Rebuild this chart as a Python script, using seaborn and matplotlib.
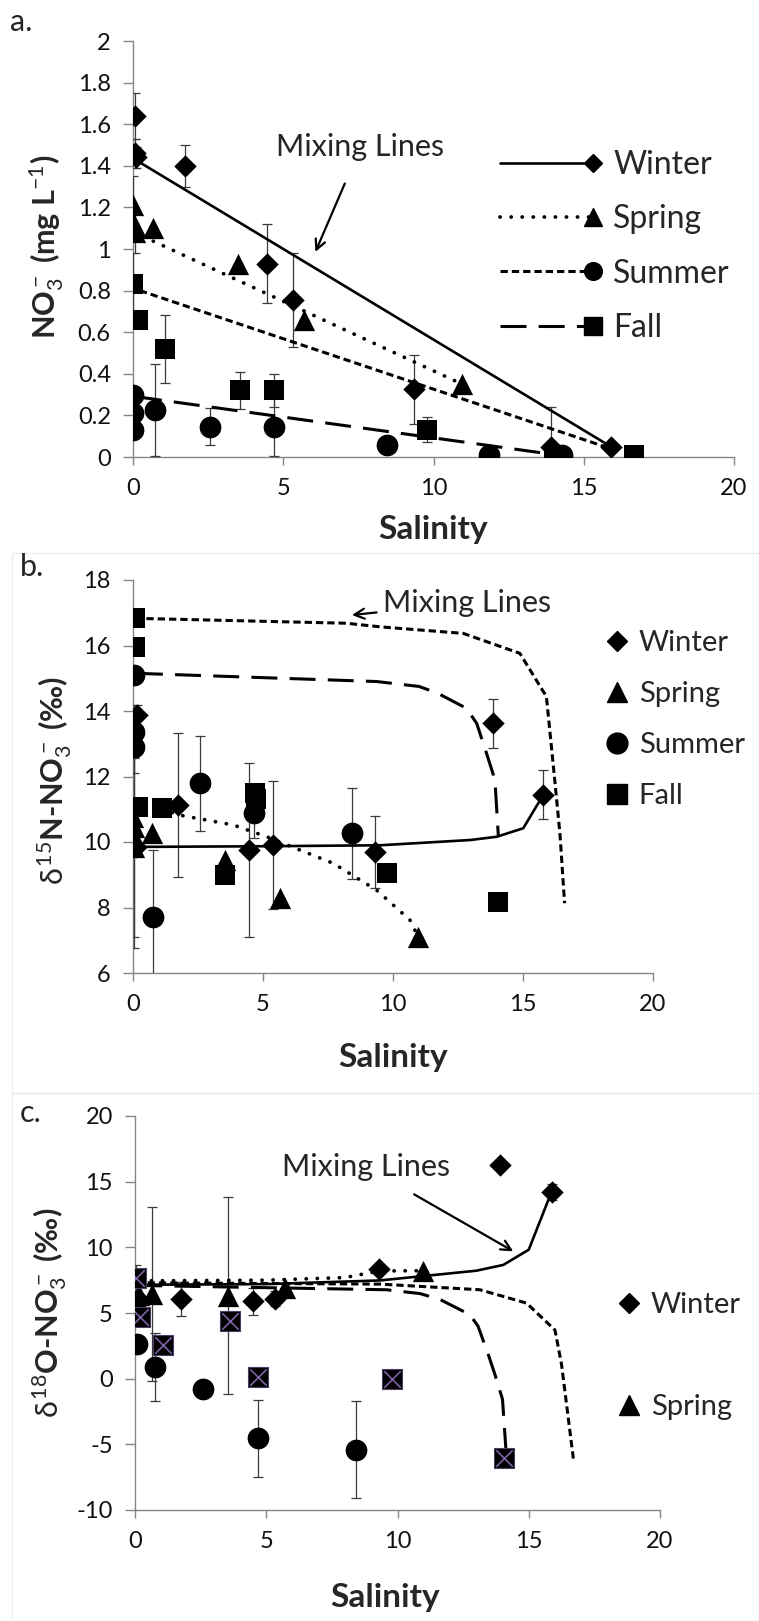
import numpy as np
import matplotlib
matplotlib.use('Agg')
import matplotlib.pyplot as plt
import seaborn as sns
from matplotlib.lines import Line2D
from matplotlib.legend_handler import HandlerLine2D
from matplotlib.ticker import FuncFormatter
from matplotlib.patches import Rectangle

# ---------------- data: panel a (NO3-, mg/L) ----------------
winter_a_x = [0.05, 0.07, 0.10, 1.73, 4.45, 5.34, 9.34, 13.90, 15.90]
winter_a_y = [1.64, 1.46, 1.44, 1.40, 0.93, 0.755, 0.325, 0.05, 0.05]
winter_a_e = [0.11, 0.07, 0.05, 0.10, 0.19, 0.225, 0.165, 0.19, 0.02]
spring_a_x = [0.00, 0.03, 0.05, 0.68, 3.51, 5.68, 10.96]
spring_a_y = [1.21, 1.12, 1.08, 1.10, 0.93, 0.66, 0.35]
spring_a_e = [0.14, 0.0, 0.10, 0.0, 0.0, 0.0, 0.0]
summer_a_x = [0.00, 0.00, 0.00, 0.73, 2.57, 4.68, 8.46, 11.84, 14.29]
summer_a_y = [0.30, 0.21, 0.13, 0.226, 0.146, 0.146, 0.06, 0.01, 0.01]
summer_a_e = [0.0, 0.0, 0.0, 0.22, 0.09, 0.14, 0.0, 0.0, 0.0]
fall_a_x = [0.00, 0.18, 1.07, 3.57, 4.68, 9.79, 14.01, 16.68]
fall_a_y = [0.83, 0.66, 0.52, 0.32, 0.32, 0.13, 0.00, 0.01]
fall_a_e = [0.15, 0.0, 0.165, 0.09, 0.08, 0.06, 0.0, 0.0]
mixW_a_x, mixW_a_y = [0.07, 15.90], [1.43, 0.05]
mixSp_a_x, mixSp_a_y = [0.34, 10.96], [1.06, 0.35]
mixSu_a_x, mixSu_a_y = [0.23, 15.90], [0.80, 0.04]
mixF_a_x, mixF_a_y = [0.10, 14.10], [0.29, 0.01]

# ---------------- data: panel b (d15N) ----------------
winter_b_x = [0.14, 0.10, 1.74, 4.47, 5.40, 9.31, 13.86, 15.78]
winter_b_y = [13.88, 9.85, 11.13, 9.76, 9.90, 9.70, 13.62, 11.44]
winter_b_e = [0.30, 0.0, 2.20, 2.65, 1.95, 1.10, 0.75, 0.75]
spring_b_x = [0.00, 0.02, 0.04, 0.05, 0.72, 3.54, 5.65, 10.97]
spring_b_y = [10.75, 10.45, 10.15, 9.85, 10.26, 9.45, 8.28, 7.10]
spring_b_e = [0.0, 0.0, 3.40, 2.75, 0.0, 0.0, 0.0, 0.0]
summer_b_x = [0.05, 0.05, 0.05, 0.78, 2.58, 4.65, 8.41]
summer_b_y = [15.10, 13.37, 12.91, 7.72, 11.79, 10.88, 10.26]
summer_b_e = [0.0, 0.80, 0.80, 2.03, 1.45, 0.77, 1.40]
fall_b_x = [0.08, 0.08, 0.20, 1.10, 3.54, 4.69, 4.72, 9.76, 14.05]
fall_b_y = [16.83, 15.96, 11.08, 11.03, 9.00, 11.50, 11.30, 9.04, 8.18]
mixW_b_x = [0.10, 5.0, 9.5, 12.96, 13.99, 15.01, 15.78]
mixW_b_y = [9.85, 9.87, 9.90, 10.06, 10.16, 10.42, 11.44]
mixSp_b_x = [1.10, 1.80, 3.86, 5.14, 7.70, 9.37, 10.65, 10.97]
mixSp_b_y = [11.00, 10.82, 10.52, 10.16, 9.35, 8.53, 7.62, 7.10]
mixSu_b_x = [0.08, 8.20, 9.50, 12.70, 14.88, 15.90, 16.17, 16.42, 16.60]
mixSu_b_y = [16.83, 16.68, 16.57, 16.37, 15.76, 14.44, 12.30, 10.26, 8.13]
mixF_b_x = [0.15, 9.37, 11.00, 11.70, 12.83, 13.22, 13.60, 13.92, 14.05]
mixF_b_y = [15.15, 14.90, 14.75, 14.55, 14.08, 13.62, 12.70, 11.90, 10.20]

# ---------------- data: panel c (d18O) ----------------
winter_c_x = [0.10, 1.77, 4.49, 5.35, 9.28, 13.90, 15.87]
winter_c_y = [6.10, 6.04, 5.89, 6.10, 8.38, 16.28, 14.23]
winter_c_e = [0.0, 1.30, 1.05, 0.60, 0.0, 0.0, 0.60]
spring_c_x = [0.15, 0.64, 3.55, 5.71, 10.98]
spring_c_y = [6.40, 6.46, 6.32, 6.90, 8.22]
spring_c_e = [0.0, 6.60, 7.50, 0.0, 0.0]
summer_c_x = [0.05, 0.06, 0.76, 2.60, 4.70, 8.42]
summer_c_y = [5.90, 2.66, 0.90, -0.80, -4.55, -5.40]
summer_c_e = [0.0, 0.0, 2.60, 0.0, 2.90, 3.70]
fall_c_x = [0.05, 0.18, 1.08, 3.60, 4.70, 9.78, 14.07]
fall_c_y = [7.63, 4.71, 2.57, 4.41, 0.11, -0.03, -6.05]
fall_c_e = [1.0, 0.0, 0.0, 0.0, 0.0, 0.0, 0.0]
mixW_c_x = [0.05, 5.0, 9.33, 13.00, 14.03, 15.00, 15.87]
mixW_c_y = [7.15, 7.20, 7.48, 8.22, 8.66, 9.82, 14.23]
mixSp_c_x = [0.20, 5.0, 8.0, 9.30, 10.98]
mixSp_c_y = [7.45, 7.50, 7.70, 8.20, 8.22]
mixSu_c_x = [0.05, 9.33, 13.14, 14.92, 16.00, 16.25, 16.70]
mixSu_c_y = [7.30, 7.20, 6.77, 5.75, 3.70, 1.07, -6.10]
mixF_c_x = [0.05, 9.58, 10.85, 11.61, 12.76, 13.07, 13.49, 13.71, 14.00, 14.15]
mixF_c_y = [7.10, 6.77, 6.48, 6.04, 4.87, 3.99, 1.65, 0.33, -1.57, -5.96]

seasons = ['Winter', 'Spring', 'Summer', 'Fall']
x_ticks = [0, 5, 10, 15, 20]

# ---------------- style ----------------
sns.set_theme(style='white')
plt.rcParams['font.family'] = ['Lato', 'DejaVu Sans']
plt.rcParams['mathtext.fontset'] = 'custom'
plt.rcParams['mathtext.rm'] = 'Lato'
plt.rcParams['mathtext.it'] = 'Lato'
plt.rcParams['mathtext.bf'] = 'Lato:bold'
plt.rcParams['mathtext.sf'] = 'Lato'
plt.rcParams['axes.unicode_minus'] = False

W, H = 759, 1621
fig = plt.figure(figsize=(W / 100, H / 100), dpi=100)
fig.patch.set_facecolor('white')

# faint frames of the composed sub-figures
for (l, t, r, b) in [(12, 553, 759, 1093), (12, 1093, 759, 1621)]:
    fig.patches.append(Rectangle((l / W, 1 - b / H), (r - l) / W, (b - t) / H,
                                 transform=fig.transFigure, fill=False,
                                 edgecolor='#eeeeee', lw=1.0))

def ax_px(l, t, r, b):
    return fig.add_axes([l / W, 1 - b / H, (r - l) / W, (b - t) / H])

GRAY = '#868686'
LW = 2.2
styles = {
    'Winter': dict(linestyle='-', lw=1.9),
    'Spring': dict(linestyle=(0, (0.05, 2.9)), lw=LW + 0.5, dash_capstyle='round'),
    'Summer': dict(linestyle=(0, (2.4, 1.3)), lw=LW),
    'Fall': dict(linestyle=(0, (8.5, 4.0)), lw=LW),
}
markers = {'Winter': 'D', 'Spring': '^', 'Summer': 'o', 'Fall': 's'}
sizes = {'Winter': 130, 'Spring': 235, 'Summer': 245, 'Fall': 225}
msizes = {'Winter': 10.5, 'Spring': 14.5, 'Summer': 15, 'Fall': 14.5}

def style_axes(ax, ylim, yticks):
    ax.set_xlim(0, 20)
    ax.set_ylim(*ylim)
    ax.set_xticks(x_ticks)
    ax.set_yticks(yticks)
    ax.yaxis.set_major_formatter(FuncFormatter(lambda v, p: f'{v:g}'))
    for s in ['top', 'right']:
        ax.spines[s].set_visible(False)
    for s in ['left', 'bottom']:
        ax.spines[s].set_color(GRAY)
        ax.spines[s].set_linewidth(1.0)
    ax.tick_params(axis='both', which='major', direction='out', color=GRAY,
                   width=1.0, labelsize=17, labelcolor='#111111')
    ax.tick_params(axis='y', length=7, pad=9, left=True)
    ax.tick_params(axis='x', length=6, pad=9, bottom=True)
    ax.set_facecolor('white')
    ax.grid(False)

def points(ax, x, y, season, err=None, xcross=False):
    if err is not None:
        ax.errorbar(x, y, yerr=err, fmt='none', ecolor='#3a3a3a', elinewidth=0.9,
                    capsize=3.5, capthick=0.9, zorder=3)
    if xcross:
        sns.scatterplot(x=x, y=y, ax=ax, marker='s', s=sizes[season], color='black',
                        edgecolor='#4b3d66', linewidth=0.8, zorder=5, legend=False)
        sns.scatterplot(x=x, y=y, ax=ax, marker='x', s=140, color='#7E62A8',
                        linewidth=1.2, zorder=6, legend=False)
    else:
        sns.scatterplot(x=x, y=y, ax=ax, marker=markers[season], s=sizes[season],
                        color='black', edgecolor='black', linewidth=0, zorder=5,
                        legend=False)

def mix(ax, x, y, season):
    sns.lineplot(x=x, y=y, ax=ax, color='black', sort=False, estimator=None,
                 zorder=4, legend=False, **styles[season])

class EndMarkerHandler(HandlerLine2D):
    def create_artists(self, *args, **kwargs):
        arts = super().create_artists(*args, **kwargs)
        for a in arts:
            n = len(a.get_xdata())
            a.set_markevery([n - 1])
        return arts

def fig_text(x, y, s, **kw):
    fig.text(x / W, 1 - y / H, s, **kw)

SAL_FS = 24
YL_FS = 22
MIX_FS = 22

# ================= panel a =================
axa = ax_px(133, 41, 734, 457)
style_axes(axa, (0, 2), np.arange(0, 2.01, 0.2))
mix(axa, mixW_a_x, mixW_a_y, 'Winter')
mix(axa, mixSp_a_x, mixSp_a_y, 'Spring')
mix(axa, mixSu_a_x, mixSu_a_y, 'Summer')
mix(axa, mixF_a_x, mixF_a_y, 'Fall')
points(axa, winter_a_x, winter_a_y, 'Winter', winter_a_e)
points(axa, spring_a_x, spring_a_y, 'Spring', spring_a_e)
points(axa, summer_a_x, summer_a_y, 'Summer', summer_a_e)
points(axa, fall_a_x, fall_a_y, 'Fall', fall_a_e)
axa.set_xlabel('Salinity', fontsize=SAL_FS, fontweight='bold', va='center')
axa.xaxis.set_label_coords(0.5, -(530 - 457) / 416)
axa.set_ylabel(r'NO$_3^-$ (mg L$^{-1}$)', fontsize=YL_FS, fontweight='bold', va='center')
axa.yaxis.set_label_coords((47 - 133) / 601, 0.505)
axa.annotate('Mixing Lines', xy=(6.07, 0.986), xytext=(7.57, 1.49),
             fontsize=MIX_FS, ha='center', va='center',
             arrowprops=dict(arrowstyle='->', lw=1.6, color='black',
                             shrinkA=15, shrinkB=0, mutation_scale=18))
handles_a = [Line2D([], [], color='black', marker=markers[s], markersize=msizes[s] * 0.85,
                    **styles[s]) for s in seasons]
axa.legend(handles_a, seasons, loc='upper left',
           bbox_to_anchor=((500 - 133) / 601, (457 - 150) / 416),
           frameon=False, fontsize=23, handlelength=2.9, handletextpad=0.65,
           labelspacing=0.76, borderpad=0, borderaxespad=0,
           handler_map={Line2D: EndMarkerHandler(numpoints=1)})
fig_text(10, 22, 'a.', fontsize=22, va='center', ha='left')

# ================= panel b =================
axb = ax_px(133, 580, 653, 973)
style_axes(axb, (6, 18), np.arange(6, 18.1, 2))
mix(axb, mixW_b_x, mixW_b_y, 'Winter')
mix(axb, mixSp_b_x, mixSp_b_y, 'Spring')
mix(axb, mixSu_b_x, mixSu_b_y, 'Summer')
mix(axb, mixF_b_x, mixF_b_y, 'Fall')
points(axb, winter_b_x, winter_b_y, 'Winter', winter_b_e)
points(axb, spring_b_x, spring_b_y, 'Spring', spring_b_e)
points(axb, summer_b_x, summer_b_y, 'Summer', summer_b_e)
points(axb, fall_b_x, fall_b_y, 'Fall')
axb.set_xlabel('Salinity', fontsize=SAL_FS, fontweight='bold', va='center')
axb.xaxis.set_label_coords(0.5, -(1058 - 973) / 393)
axb.set_ylabel(r'$\delta^{15}$N-NO$_3^-$ (‰)', fontsize=YL_FS, fontweight='bold', va='center')
axb.yaxis.set_label_coords((55 - 133) / 520, 0.49)
axb.annotate('Mixing Lines', xy=(8.42, 16.93), xytext=(9.6, 17.3),
             fontsize=MIX_FS, ha='left', va='center',
             arrowprops=dict(arrowstyle='->', lw=1.6, color='black',
                             shrinkA=2, shrinkB=0, mutation_scale=18))
handles_b = [Line2D([], [], color='black', marker=markers[s], linestyle='none',
                    markersize=msizes[s]) for s in seasons]
axb.legend(handles_b, seasons, loc='upper left',
           bbox_to_anchor=((605 - 133) / 520, (973 - 630) / 393),
           frameon=False, fontsize=21, handlelength=0.8, handletextpad=0.35,
           labelspacing=0.86, borderpad=0, borderaxespad=0)
fig_text(20, 567, 'b.', fontsize=22, va='center', ha='left')

# ================= panel c =================
axc = ax_px(135, 1116, 660, 1510)
style_axes(axc, (-10, 20), np.arange(-10, 20.1, 5))
mix(axc, mixW_c_x, mixW_c_y, 'Winter')
mix(axc, mixSp_c_x, mixSp_c_y, 'Spring')
mix(axc, mixSu_c_x, mixSu_c_y, 'Summer')
mix(axc, mixF_c_x, mixF_c_y, 'Fall')
points(axc, winter_c_x, winter_c_y, 'Winter', winter_c_e)
points(axc, spring_c_x, spring_c_y, 'Spring', spring_c_e)
points(axc, summer_c_x, summer_c_y, 'Summer', summer_c_e)
points(axc, fall_c_x, fall_c_y, 'Fall', fall_c_e, xcross=True)
axc.set_xlabel('Salinity', fontsize=SAL_FS, fontweight='bold', va='center')
axc.xaxis.set_label_coords((385 - 135) / 525, -(1598 - 1510) / 394)
axc.set_ylabel(r'$\delta^{18}$O-NO$_3^-$ (‰)', fontsize=YL_FS, fontweight='bold', va='center')
axc.yaxis.set_label_coords((50 - 135) / 525, 0.5)
axc.annotate('Mixing Lines', xy=(14.41, 9.70), xytext=(8.8, 16.14),
             fontsize=MIX_FS, ha='center', va='center',
             arrowprops=dict(arrowstyle='->', lw=1.6, color='black',
                             shrinkA=15, shrinkB=0, mutation_scale=18))
handles_c = [Line2D([], [], color='black', marker=markers[s], linestyle='none',
                    markersize=msizes[s]) for s in seasons[:2]]
axc.legend(handles_c, seasons[:2], loc='upper left',
           bbox_to_anchor=((617 - 135) / 525, (1510 - 1292) / 394),
           frameon=False, fontsize=21, handlelength=0.8, handletextpad=0.35,
           labelspacing=2.6, borderpad=0, borderaxespad=0)
fig_text(20, 1113, 'c.', fontsize=22, va='center', ha='left')

fig.savefig('out.png', dpi=100, facecolor='white')
